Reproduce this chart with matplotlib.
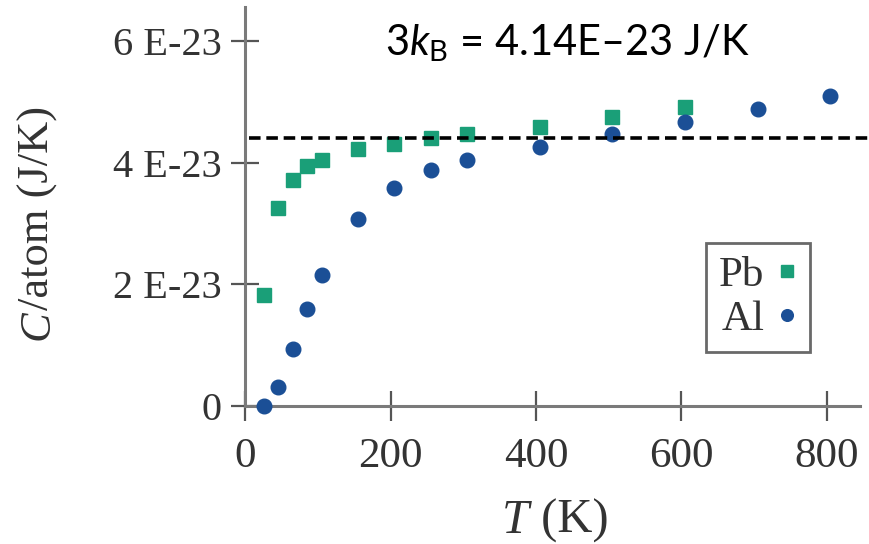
import matplotlib
matplotlib.use("Agg")
import matplotlib.pyplot as plt

# ---- data (C per atom in units of 1E-23 J/K) ----
pb_T = [25, 45, 65, 85, 105, 155, 205, 255, 305, 405, 505, 605]
pb_C = [1.82, 3.25, 3.71, 3.95, 4.04, 4.22, 4.31, 4.40, 4.48, 4.59, 4.75, 4.92]
al_T = [25, 45, 65, 85, 105, 155, 205, 255, 305, 405, 505, 605, 705, 805]
al_C = [0.0, 0.32, 0.93, 1.59, 2.16, 3.07, 3.58, 3.88, 4.04, 4.26, 4.48, 4.67, 4.88, 5.09]
ref_line = 4.40
x_ticks = [0, 200, 400, 600, 800]
y_ticks = [0, 2, 4, 6]
y_tick_labels = ["0", "2 E-23", "4 E-23", "6 E-23"]

plt.rcParams['mathtext.fontset'] = 'custom'
plt.rcParams['mathtext.rm'] = 'Lato'
plt.rcParams['mathtext.it'] = 'Lato:italic'

W, H = 869, 544
fig = plt.figure(figsize=(W / 100, H / 100), dpi=100)
fig.patch.set_facecolor('white')
ax = fig.add_axes([245.4 / W, 1 - 406 / H, (860 - 245.4) / W, (406 - 7) / H])

green = '#1a9f78'
blue = '#1b4f96'
serif = 'Liberation Serif'

ax.plot(pb_T, pb_C, linestyle='none', marker='s', ms=10.5, color=green,
        mec=green, label='Pb', clip_on=False, zorder=3)
ax.plot(al_T, al_C, linestyle='none', marker='o', ms=10.5, color=blue,
        mec=blue, label='Al', clip_on=False, zorder=3)

ln = ax.axhline(ref_line, xmin=0.006, xmax=1.02, color='black', lw=2.6,
                clip_on=False, zorder=4)
ln.set_dashes([3.2, 1.6])

ax.set_xlim(0, 846)
ax.set_ylim(0, 6.56)

for s in ['top', 'right']:
    ax.spines[s].set_visible(False)
for s in ['left', 'bottom']:
    ax.spines[s].set_color('#7a7a7a')
    ax.spines[s].set_linewidth(2.2)

ax.set_xticks(x_ticks)
ax.set_xticklabels([str(v) for v in x_ticks], fontfamily=serif, fontsize=31, color='#333333')
ax.set_yticks(y_ticks)
ax.set_yticklabels(y_tick_labels, fontfamily=serif, fontsize=29, color='#333333')
ax.tick_params(axis='x', direction='inout', length=22, width=1.6, color='#555555', pad=12)
ax.tick_params(axis='y', direction='inout', length=20, width=1.6, color='#555555', pad=7)

# axis labels
x0 = 529 / W
yb = 1 - 533 / H
fig.text(x0, yb, 'T', fontfamily=serif, fontstyle='italic', fontsize=35,
         ha='right', va='baseline', color='#333333')
fig.text(x0, yb, ' (K)', fontfamily=serif, fontsize=35,
         ha='left', va='baseline', color='#333333')

ylx = 38 / W
yly = 1 - 310 / H
fig.text(ylx, yly, 'C', fontfamily=serif, fontstyle='italic', fontsize=32,
         rotation=90, ha='center', va='top', color='#333333')
fig.text(ylx, yly, '/atom (J/K)', fontfamily=serif, fontsize=32,
         rotation=90, ha='center', va='bottom', color='#333333')

# annotation
fig.text(385 / W, 1 - 55 / H, r'3$k_{\mathrm{B}}$ = 4.14E–23 J/K',
         fontfamily='Lato', fontsize=30, ha='left', va='baseline', color='black')

leg = ax.legend(loc='upper left', bbox_to_anchor=(706 / W, 1 - 243 / H),
                bbox_transform=fig.transFigure, markerfirst=False,
                prop={'family': serif, 'size': 31}, frameon=True, fancybox=False,
                handlelength=0.45, handletextpad=0.3, borderpad=0.3,
                labelspacing=0.12, borderaxespad=0, markerscale=0.8)
leg.get_frame().set_edgecolor('#444444')
leg.get_frame().set_linewidth(2.0)
for t in leg.get_texts():
    t.set_color('#333333')

fig.savefig('out.png', dpi=100)
